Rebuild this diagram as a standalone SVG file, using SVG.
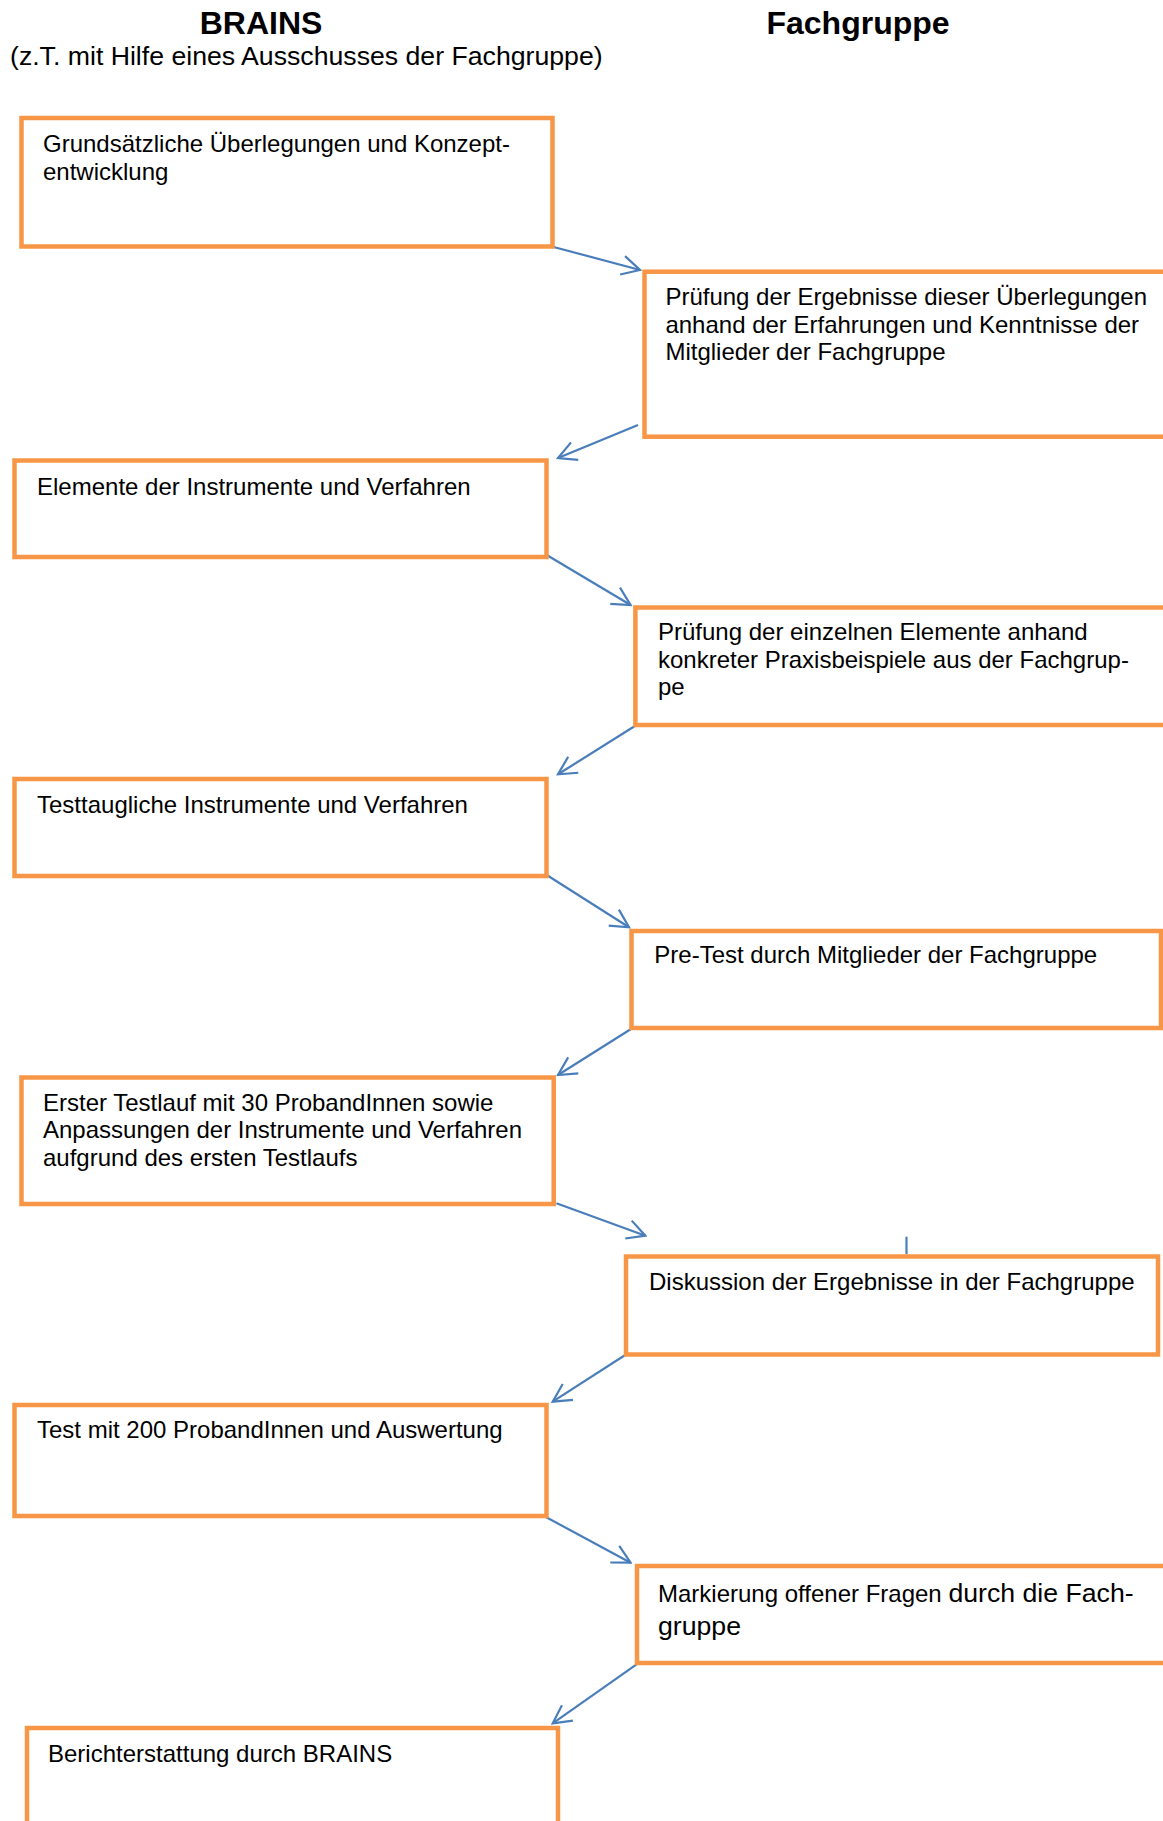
<svg xmlns="http://www.w3.org/2000/svg" width="1163" height="1821" viewBox="0 0 1163 1821">
<style>
  .box { fill: #FFFFFF; stroke: #F79646; stroke-width: 4.5; }
  .t { font-family: "Liberation Sans", Arial, sans-serif; font-size: 24px; fill: #000000; }
  .big { font-size: 26.67px; }
  .hdr { font-family: "Liberation Sans", Arial, sans-serif; font-size: 32px; font-weight: bold; fill: #000000; text-anchor: middle; }
  .conn { fill: none; stroke: #4A7EBB; stroke-width: 2.2; }
</style>
<defs>
  <marker id="arr" markerUnits="userSpaceOnUse" viewBox="-20 -11 22 22" refX="0" refY="0" markerWidth="22" markerHeight="22" orient="auto">
    <path d="M-18,-9.5 L0,0 L-18,9.5" fill="none" stroke="#4A7EBB" stroke-width="2.2"/>
  </marker>
</defs>
<rect width="1163" height="1821" fill="#FFFFFF"/>

<g id="header">
  <text class="hdr" x="261" y="34">BRAINS</text>
  <text class="hdr" x="858" y="34">Fachgruppe</text>
  <text class="t big" x="10" y="65">(z.T. mit Hilfe eines Ausschusses der Fachgruppe)</text>
</g>

<g id="connectors">
  <line class="conn" x1="552.7" y1="246.7" x2="640" y2="270" marker-end="url(#arr)"/>
  <line class="conn" x1="638" y1="425" x2="558" y2="458" marker-end="url(#arr)"/>
  <line class="conn" x1="546.7" y1="555" x2="630.6" y2="605" marker-end="url(#arr)"/>
  <line class="conn" x1="636.5" y1="725" x2="558" y2="774.3" marker-end="url(#arr)"/>
  <line class="conn" x1="546.7" y1="875" x2="629" y2="927.3" marker-end="url(#arr)"/>
  <line class="conn" x1="630.6" y1="1029.3" x2="558" y2="1075" marker-end="url(#arr)"/>
  <line class="conn" x1="556.4" y1="1203.3" x2="645.4" y2="1235.7" marker-end="url(#arr)"/>
  <line class="conn" x1="906.5" y1="1236.7" x2="906.5" y2="1254"/>
  <line class="conn" x1="626" y1="1354.5" x2="552.7" y2="1401.7" marker-end="url(#arr)"/>
  <line class="conn" x1="545.3" y1="1516.7" x2="630.6" y2="1562.7" marker-end="url(#arr)"/>
  <line class="conn" x1="638" y1="1663.3" x2="552.7" y2="1723.3" marker-end="url(#arr)"/>
</g>

<g id="n1">
  <rect class="box" x="21.5" y="118" width="531" height="128.5"/>
  <text class="t" x="43" y="152">Grundsätzliche Überlegungen und Konzept-</text>
  <text class="t" x="43" y="179.6">entwicklung</text>
</g>
<g id="n2">
  <rect class="box" x="644.5" y="271.7" width="600" height="165"/>
  <text class="t" x="665.4" y="305">Prüfung der Ergebnisse dieser Überlegungen</text>
  <text class="t" x="665.4" y="332.6">anhand der Erfahrungen und Kenntnisse der</text>
  <text class="t" x="665.4" y="360.2">Mitglieder der Fachgruppe</text>
</g>
<g id="n3">
  <rect class="box" x="14.5" y="460.5" width="532" height="96.5"/>
  <text class="t" x="37" y="495">Elemente der Instrumente und Verfahren</text>
</g>
<g id="n4">
  <rect class="box" x="635.4" y="607.5" width="600" height="117.5"/>
  <text class="t" x="658" y="640">Prüfung der einzelnen Elemente anhand</text>
  <text class="t" x="658" y="667.6">konkreter Praxisbeispiele aus der Fachgrup-</text>
  <text class="t" x="658" y="695.2">pe</text>
</g>
<g id="n5">
  <rect class="box" x="14.5" y="779" width="532" height="97"/>
  <text class="t" x="37" y="813.3">Testtaugliche Instrumente und Verfahren</text>
</g>
<g id="n6">
  <rect class="box" x="631.5" y="931" width="529.5" height="97"/>
  <text class="t" x="654.3" y="963.3">Pre-Test durch Mitglieder der Fachgruppe</text>
</g>
<g id="n7">
  <rect class="box" x="21.5" y="1077.5" width="532.2" height="126.5"/>
  <text class="t" x="43" y="1110.7">Erster Testlauf mit 30 ProbandInnen sowie</text>
  <text class="t" x="43" y="1138.3">Anpassungen der Instrumente und Verfahren</text>
  <text class="t" x="43" y="1165.9">aufgrund des ersten Testlaufs</text>
</g>
<g id="n8">
  <rect class="box" x="626" y="1256.5" width="532" height="98"/>
  <text class="t" x="649" y="1290">Diskussion der Ergebnisse in der Fachgruppe</text>
</g>
<g id="n9">
  <rect class="box" x="14.5" y="1405" width="532" height="111"/>
  <text class="t" x="37" y="1438.3">Test mit 200 ProbandInnen und Auswertung</text>
</g>
<g id="n10">
  <rect class="box" x="637" y="1566" width="600" height="97"/>
  <text class="t" x="658" y="1602.3">Markierung offener Fragen <tspan class="big">durch die Fach-</tspan></text>
  <text class="t big" x="658" y="1635">gruppe</text>
</g>
<g id="n11">
  <rect class="box" x="27" y="1728" width="531" height="200"/>
  <text class="t" x="48" y="1761.7">Berichterstattung durch BRAINS</text>
</g>
</svg>
